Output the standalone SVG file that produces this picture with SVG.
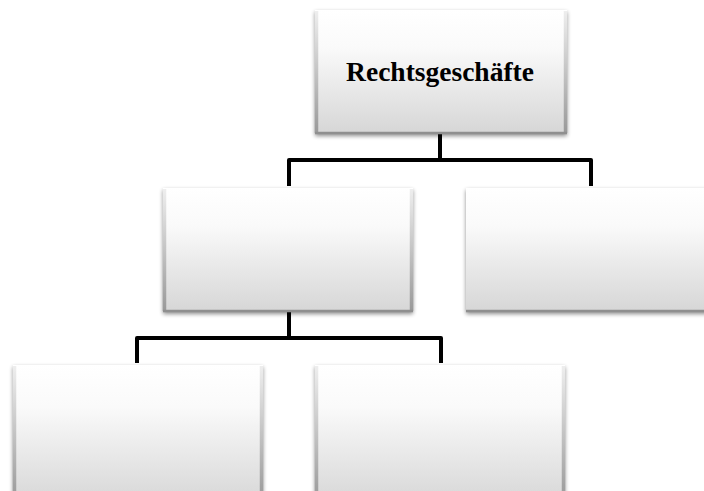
<svg xmlns="http://www.w3.org/2000/svg" width="704" height="491" viewBox="0 0 704 491">
<defs>
<linearGradient id="g" x1="0" y1="0" x2="0" y2="1">
<stop offset="0" stop-color="#ffffff"/>
<stop offset="0.3" stop-color="#fafafa"/>
<stop offset="1" stop-color="#d6d6d6"/>
</linearGradient>
<linearGradient id="side" x1="0" y1="0" x2="0" y2="1">
<stop offset="0" stop-color="#eeeeee"/>
<stop offset="1" stop-color="#999999"/>
</linearGradient>
<filter id="sh" x="-10%" y="-10%" width="120%" height="130%">
<feGaussianBlur in="SourceAlpha" stdDeviation="2"/>
<feOffset dx="0" dy="2" result="b"/>
<feComponentTransfer><feFuncA type="linear" slope="0.45"/></feComponentTransfer>
<feMerge><feMergeNode/><feMergeNode in="SourceGraphic"/></feMerge>
</filter>
</defs>
<style>
.box{fill:url(#g);filter:url(#sh)}
.bev{fill:none;stroke:url(#side);stroke-width:3.5}
.bot{stroke:#8f8f8f;stroke-width:2.5}
.con{fill:none;stroke:#000;stroke-width:4;stroke-linejoin:round}
.lbl{font-family:"Liberation Serif",serif;font-weight:bold;font-size:27.5px;fill:#000}
</style>
<g id="connectors">
<path class="con" d="M440 134 V160 M289 186 V160 H591 V186"/>
<path class="con" d="M289 312 V338 M137 363 V338 H441 V363"/>
</g>
<g id="n-root">
<rect class="box" x="315" y="10" width="252" height="124"/>
<path class="bev" d="M316.5 11 V133 M565.5 11 V133"/>
<line class="bot" x1="315" y1="133" x2="567" y2="133"/>
<text class="lbl" x="440" y="81" text-anchor="middle">Rechtsgeschäfte</text>
</g>
<g id="n-mid-left">
<rect class="box" x="163" y="188" width="250" height="124"/>
<path class="bev" d="M164.5 189 V311 M411.5 189 V311"/>
<line class="bot" x1="163" y1="311" x2="413" y2="311"/>
</g>
<g id="n-mid-right">
<rect class="box" x="466" y="188" width="250" height="124"/>
<path class="bev" d="M467.5 189 V311"/>
<line class="bot" x1="466" y1="311" x2="716" y2="311"/>
</g>
<g id="n-bot-left">
<rect class="box" x="13" y="365" width="250" height="140"/>
<path class="bev" d="M14.5 366 V500 M261.5 366 V500"/>
</g>
<g id="n-bot-right">
<rect class="box" x="315" y="365" width="250" height="140"/>
<path class="bev" d="M316.5 366 V500 M563.5 366 V500"/>
</g>
</svg>
